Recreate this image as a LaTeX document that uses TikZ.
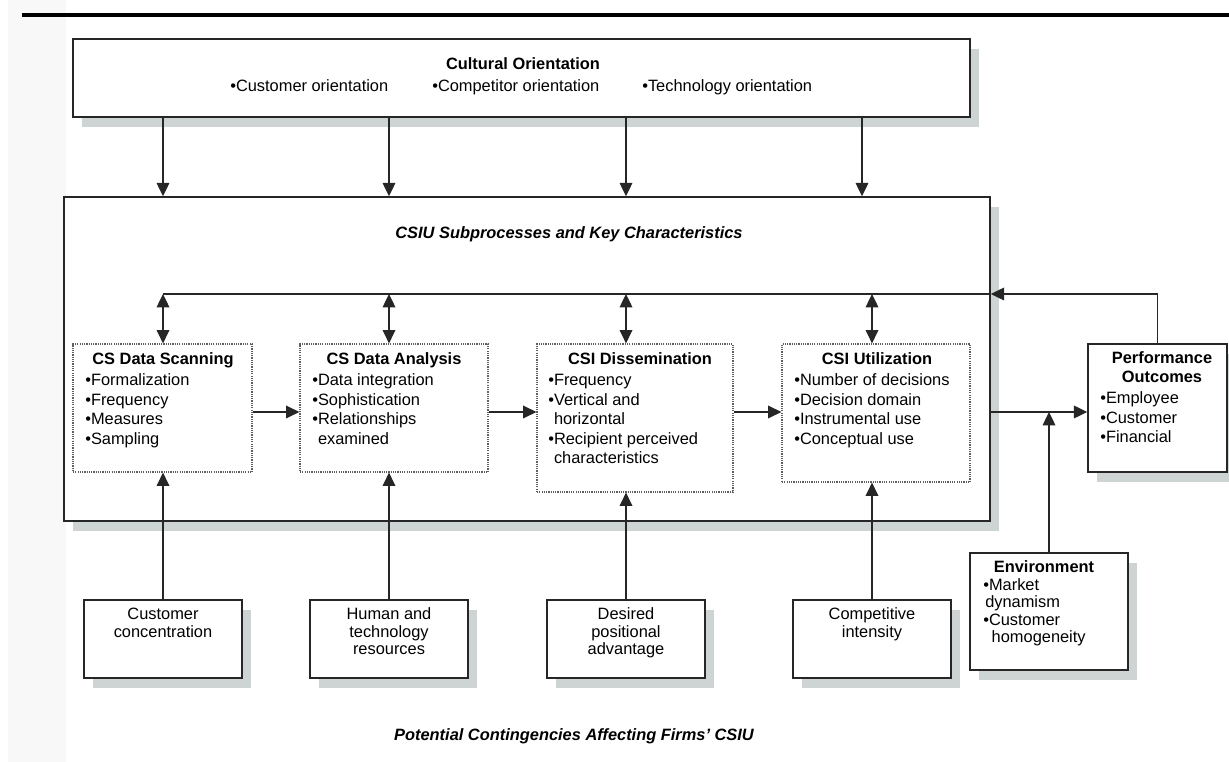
\documentclass[tikz,border=0pt]{standalone}
\usepackage{fontspec}
\setmainfont{Liberation Sans}
\usetikzlibrary{arrows.meta,fit,shadows,calc}
\definecolor{shade}{RGB}{206,211,211}
\definecolor{ink}{RGB}{38,38,38}
\definecolor{strip}{RGB}{248,248,248}
\definecolor{dotline}{RGB}{95,95,95}

\begin{document}
\begin{tikzpicture}[x=0.75pt,y=-0.75pt,
  every node/.style={font=\fontsize{12.3}{14}\selectfont, inner sep=0pt, text=black},
  frame/.style={draw=ink, line width=1.1pt, fill=white, inner sep=0pt},
  shadowed/.style={frame, drop shadow={shadow xshift=6.75pt, shadow yshift=-7.5pt, fill=shade, opacity=1}},
  dotbox/.style={draw=dotline, line width=0.9pt, dash pattern=on 0.9pt off 0.8pt, fill=white, inner sep=0pt},
  ttl/.style={font=\fontsize{12.3}{14}\selectfont\bfseries, anchor=base},
  line/.style={draw=ink, line width=0.95pt},
  arr/.style={line, -{Triangle[length=10pt,width=9.5pt]}},
  arrr/.style={line, {Triangle[length=10pt,width=9.5pt]}-{Triangle[length=10pt,width=9.5pt]}},
  lft/.style={anchor=base west},
  ctr/.style={anchor=base}]
\useasboundingbox (0,0) rectangle (1229,762);

% page margin strip and rule
\fill[strip] (8,0) rectangle (66,762);
\draw[line width=2.5pt, black] (22,15) -- (1229,15);

% cultural orientation
\node[shadowed, fit={(73,39) (970,117)}] (co) {};
\node[ttl] (coT) at (523,70) {Cultural Orientation};
\node[lft] (co1) at (230,92) {•Customer orientation};
\node[lft] (co2) at (432,92) {•Competitor orientation};
\node[lft] (co3) at (642,92) {•Technology orientation};

% main process frame
\node[shadowed, fit={(64,197) (990,521)}] (big) {};
\node[ctr, font=\fontsize{12.3}{14}\selectfont\bfseries\itshape] (bigT) at (569,239) {CSIU Subprocesses and Key Characteristics};

% subprocess boxes
\node[dotbox, fit={(73,344) (252,472)}] (scan) {};
\node[dotbox, fit={(300,344) (488,472)}] (anal) {};
\node[dotbox, fit={(537,344) (733,492)}] (diss) {};
\node[dotbox, fit={(782,344) (970,482)}] (util) {};

\node[ttl] (scanT) at (163,365) {CS Data Scanning};
\node[ttl] (analT) at (394,365) {CS Data Analysis};
\node[ttl] (dissT) at (640,365) {CSI Dissemination};
\node[ttl] (utilT) at (877,365) {CSI Utilization};

\foreach \t [count=\i] in {{•Formalization},{•Frequency},{•Measures},{•Sampling}}
  \node[lft] (scanL\i) at (85,{386+19.4*(\i-1)}) {\t};
\foreach \t [count=\i] in {{•Data integration},{•Sophistication},{•Relationships},{\hphantom{•}examined}}
  \node[lft] (analL\i) at (312,{386+19.4*(\i-1)}) {\t};
\foreach \t [count=\i] in {{•Frequency},{•Vertical and},{\hphantom{•}horizontal},{•Recipient perceived},{\hphantom{•}characteristics}}
  \node[lft] (dissL\i) at (548,{386+19.4*(\i-1)}) {\t};
\foreach \t [count=\i] in {{•Number of decisions},{•Decision domain},{•Instrumental use},{•Conceptual use}}
  \node[lft] (utilL\i) at (794,{386+19.4*(\i-1)}) {\t};

% performance outcomes
\node[shadowed, fit={(1088,344) (1227,472)}] (po) {};
\node[ttl] (poT1) at (1162,364) {Performance};
\node[ttl] (poT2) at (1162,383) {Outcomes};
\foreach \t [count=\i] in {{•Employee},{•Customer},{•Financial}}
  \node[lft] (poL\i) at (1100,{404+19.4*(\i-1)}) {\t};

% contingencies
\node[shadowed, fit={(84,600) (242,678)}] (cust) {};
\node[shadowed, fit={(310,600) (468,678)}] (hum) {};
\node[shadowed, fit={(547,600) (705,678)}] (des) {};
\node[shadowed, fit={(793,600) (951,678)}] (comp) {};
\node[shadowed, fit={(970,553) (1128,670)}] (env) {};

\foreach \t [count=\i] in {{Customer},{concentration}}
  \node[ctr] (custL\i) at (163,{620+17.5*(\i-1)}) {\t};
\foreach \t [count=\i] in {{Human and},{technology},{resources}}
  \node[ctr] (humL\i) at (389,{620+17.5*(\i-1)}) {\t};
\foreach \t [count=\i] in {{Desired},{positional},{advantage}}
  \node[ctr] (desL\i) at (626,{620+17.5*(\i-1)}) {\t};
\foreach \t [count=\i] in {{Competitive},{intensity}}
  \node[ctr] (compL\i) at (872,{620+17.5*(\i-1)}) {\t};

\node[ttl] (envT) at (1044,573) {Environment};
\node[lft] (envL1) at (983,591) {•Market};
\node[lft] (envL2) at (985,608) {dynamism};
\node[lft] (envL3) at (983,626) {•Customer};
\node[lft] (envL4) at (983,643) {\hphantom{•}\,homogeneity};

\node[ctr, font=\fontsize{12.3}{14}\selectfont\bfseries\itshape] (capB) at (574,740) {Potential Contingencies Affecting Firms’ CSIU};

% connectors
\coordinate (rail) at (0,294);
\coordinate (row) at (0,412);
\coordinate (c4) at (862,0);

\draw[arr] (co.south -| cust.north) -- (big.north -| cust.north);
\draw[arr] (co.south -| hum.north) -- (big.north -| hum.north);
\draw[arr] (co.south -| des.north) -- (big.north -| des.north);
\draw[arr] (co.south -| c4) -- (big.north -| c4);

\draw[line] (cust.north |- rail) -- (big.east |- rail);
\draw[arr] (po.north) |- (big.east |- rail);
\draw[arrr] (cust.north |- rail) -- (cust.north |- scan.north);
\draw[arrr] (hum.north |- rail) -- (hum.north |- anal.north);
\draw[arrr] (des.north |- rail) -- (des.north |- diss.north);
\draw[arrr] (comp.north |- rail) -- (comp.north |- util.north);

\draw[arr] (scan.east |- row) -- (anal.west |- row);
\draw[arr] (anal.east |- row) -- (diss.west |- row);
\draw[arr] (diss.east |- row) -- (util.west |- row);
\draw[arr] (big.east |- row) -- (po.west |- row);
\draw[arr] (env.north) -- (env.north |- row);

\draw[arr] (cust.north) -- (cust.north |- scan.south);
\draw[arr] (hum.north) -- (hum.north |- anal.south);
\draw[arr] (des.north) -- (des.north |- diss.south);
\draw[arr] (comp.north) -- (comp.north |- util.south);
\end{tikzpicture}
\end{document}
